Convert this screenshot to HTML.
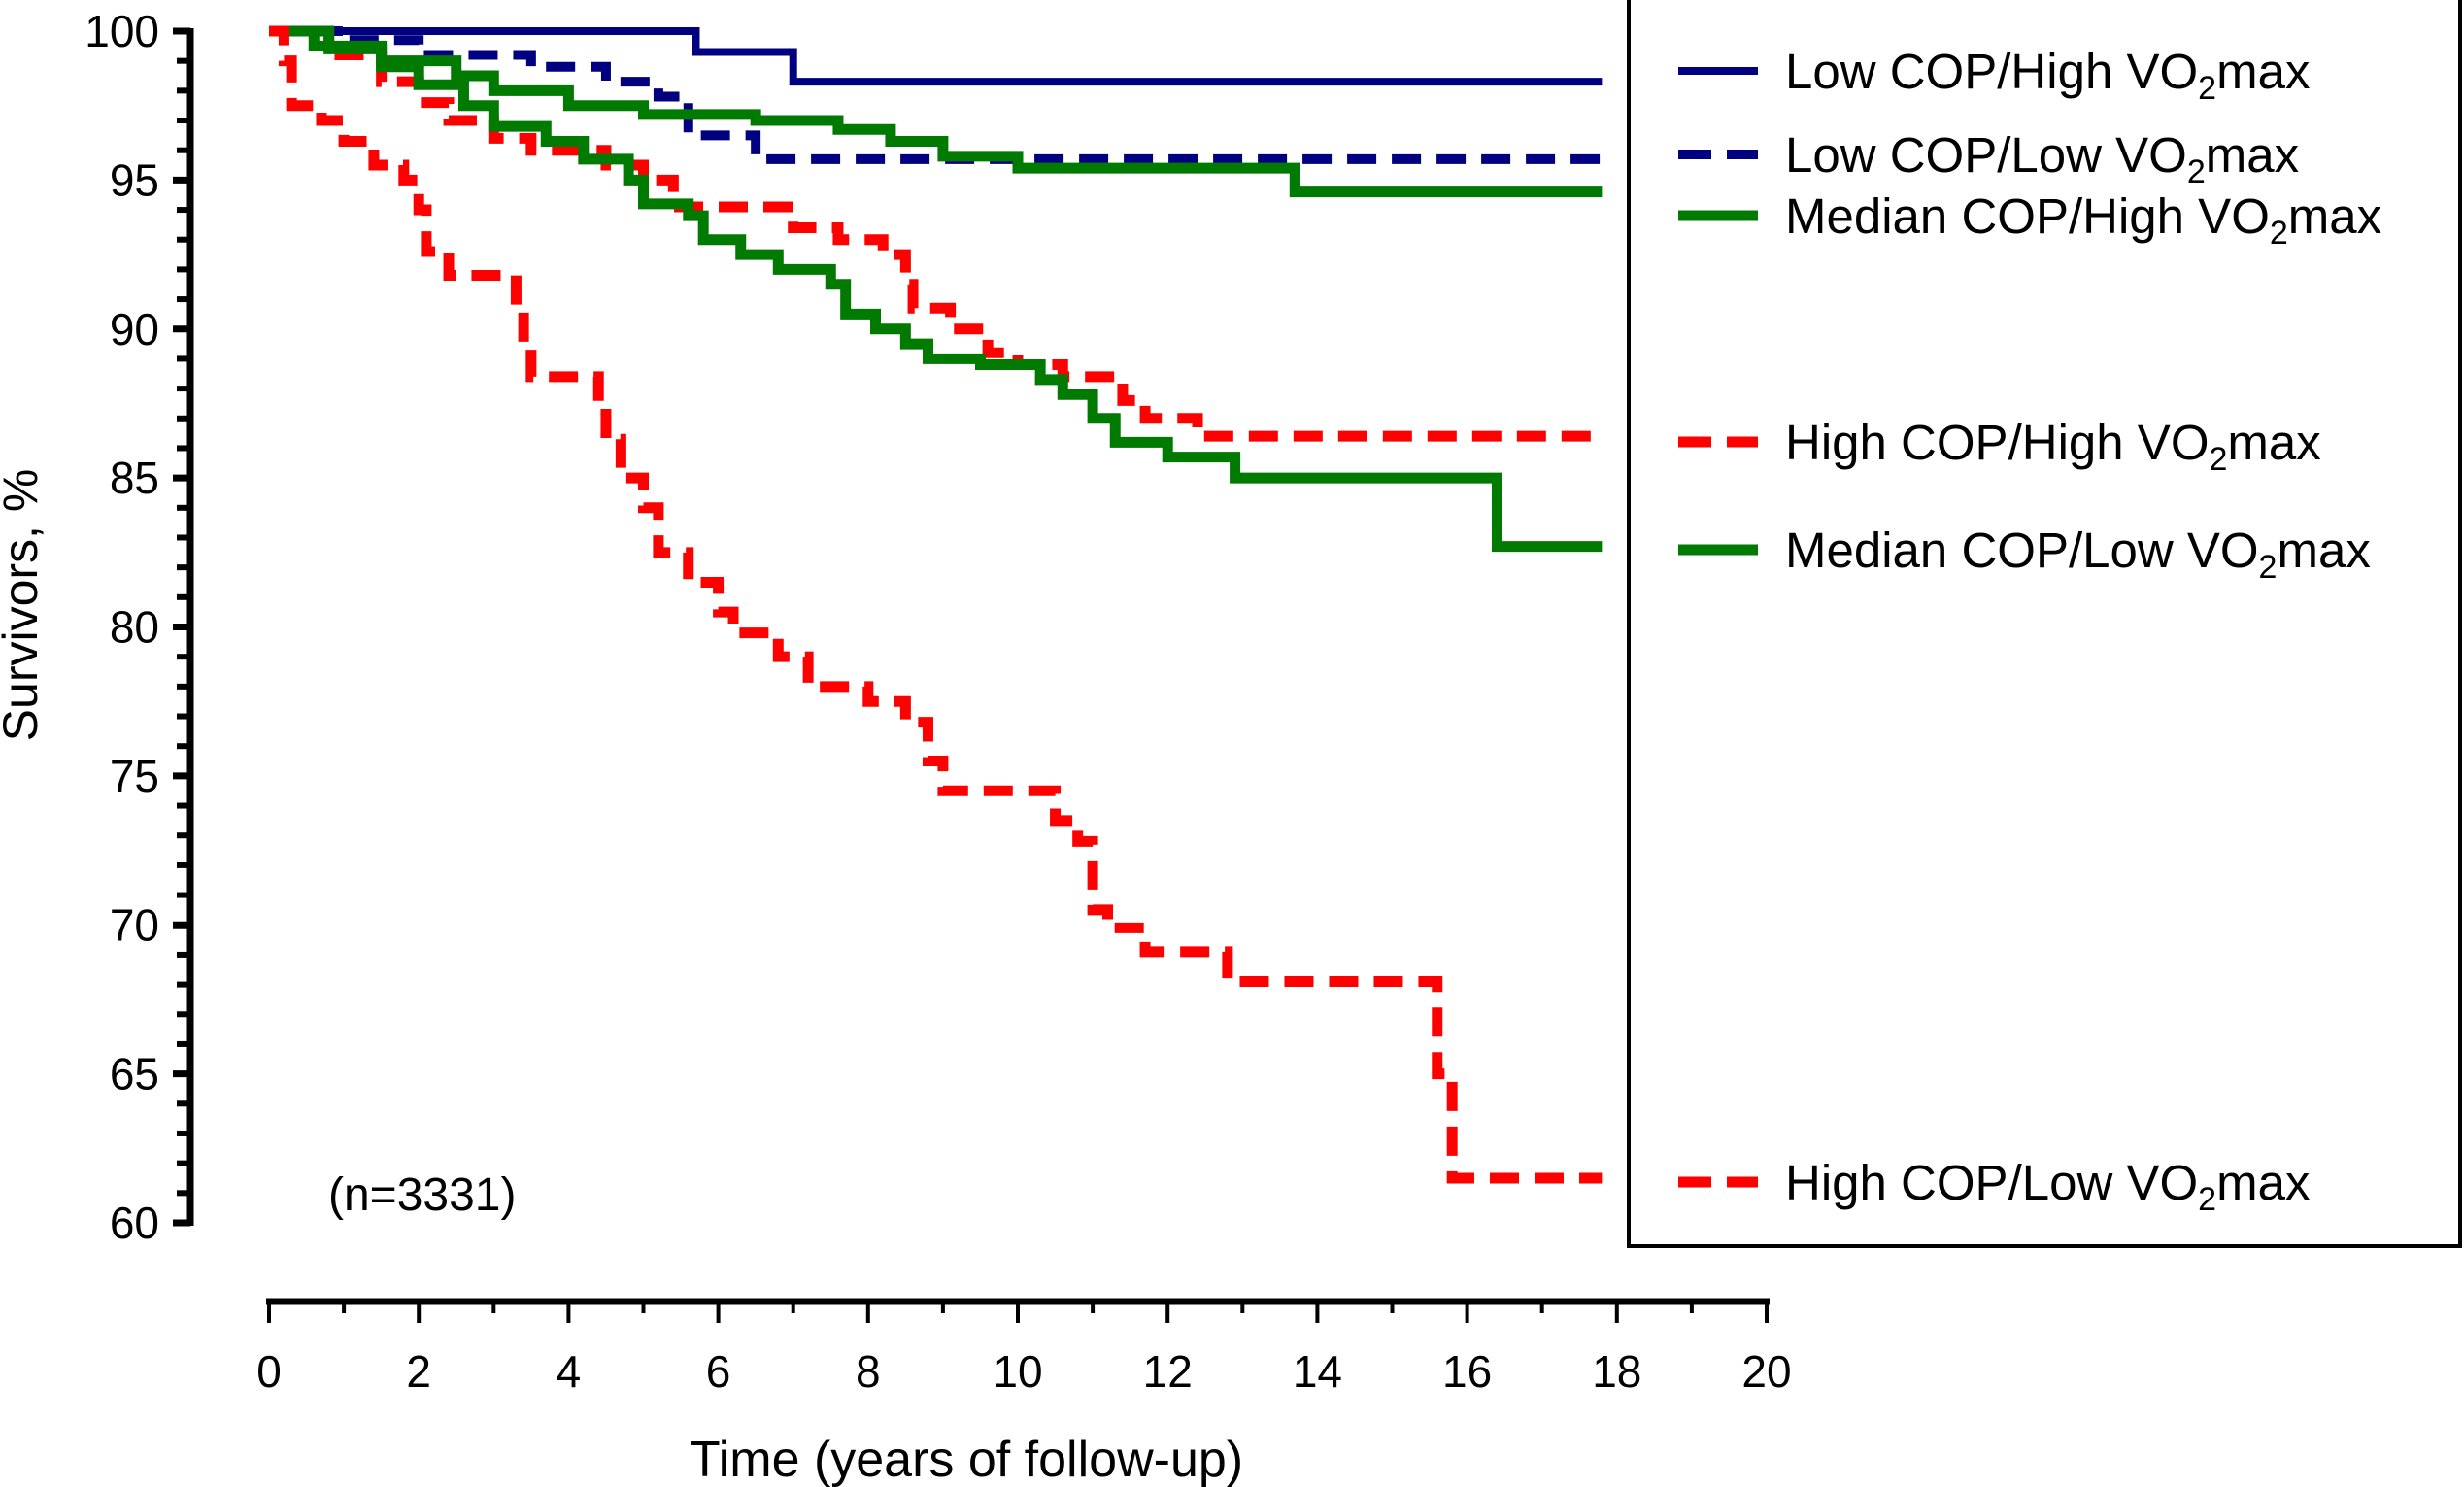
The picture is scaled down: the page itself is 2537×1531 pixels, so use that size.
<!DOCTYPE html>
<html><head><meta charset="utf-8"><style>
html,body{margin:0;padding:0;background:#fff}
svg{display:block}
text{font-family:"Liberation Sans",Arial,sans-serif;fill:#000}
</style></head><body>
<svg id="chart" width="2537" height="1531" viewBox="0 0 2537 1531" xmlns="http://www.w3.org/2000/svg">
<g id="axes"></g>
<g id="series"></g>
<rect x="1677" y="-4" width="856" height="1287" fill="none" stroke="#000" stroke-width="4"/>
<g id="legend"></g>
<text transform="translate(38,623) rotate(-90)" text-anchor="middle" font-size="50">Survivors, %</text>
<text x="995" y="1520" text-anchor="middle" font-size="52">Time (years of follow-up)</text>
<text x="338" y="1246" font-size="48">(n=3331)</text>
</svg>
<script>
const xTicks=[0,2,4,6,8,10,12,14,16,18,20];
const yTicks=[60,65,70,75,80,85,90,95,100];
const seriesNames=["Low COP/High VO2max","Low COP/Low VO2max","Median COP/High VO2max","High COP/High VO2max","Median COP/Low VO2max","High COP/Low VO2max"];
const tLowHigh=[0,5.7,7.0,17.8];
const sLowHigh=[100,99.3,98.3,98.3];
const tLowLow=[0,1.0,2.0,3.5,4.5,5.2,5.6,6.5,17.8];
const sLowLow=[100,99.7,99.2,98.8,98.3,97.8,96.5,95.7,95.7];
const tMedHigh=[0,0.6,1.5,2.5,3.0,4.0,5.0,6.5,7.6,8.3,9.0,10.0,13.7,17.8];
const sMedHigh=[100,99.5,99.0,98.5,98.0,97.5,97.2,97.0,96.7,96.3,95.8,95.4,94.6,94.6];
const tHighHigh=[0,0.8,1.5,2.0,2.4,3.0,3.5,4.5,5.0,5.4,7.0,7.6,8.2,8.5,8.6,9.1,9.6,10.0,10.6,11.4,11.7,12.4,17.8];
const sHighHigh=[100,99.2,98.3,97.6,97.0,96.4,96.0,95.5,95.0,94.1,93.4,93.0,92.5,91.5,90.7,90.0,89.2,88.8,88.4,87.6,87.0,86.4,86.4];
const tMedLow=[0,0.8,1.5,2.0,2.6,3.0,3.7,4.2,4.8,5.0,5.6,5.8,6.3,6.8,7.5,7.7,8.1,8.5,8.8,9.5,10.3,10.6,11.0,11.3,12.0,12.9,16.4,17.8];
const sMedLow=[100,99.4,98.8,98.2,97.5,96.8,96.3,95.7,95.0,94.2,93.8,93.0,92.5,92.0,91.5,90.5,90.0,89.5,89.0,88.8,88.3,87.8,87.0,86.2,85.7,85.0,82.7,82.7];
const tHighLow=[0,0.2,0.3,0.7,1.0,1.4,1.8,2.0,2.1,2.4,3.3,3.4,3.5,4.4,4.5,4.7,5.0,5.2,5.6,6.0,6.2,6.8,7.2,8.0,8.5,8.8,9.0,10.5,10.8,11.0,11.2,11.7,12.8,15.6,15.8,17.8];
const sHighLow=[100,99,97.5,97.0,96.3,95.5,95.0,94.0,92.6,91.8,90.6,89.5,88.4,87.5,86.3,85.0,84.0,82.5,81.5,80.5,79.8,79.0,78.0,77.5,76.8,75.5,74.5,73.5,72.8,70.5,69.9,69.1,68.1,65.0,61.5,61.5];

const NS="http://www.w3.org/2000/svg";
const X0=277,X1=1819,Y100=32,Y60=1259;
function xs(t){return X0+(X1-X0)*t/20;}
function ys(v){return Y60-(Y60-Y100)*(v-60)/40;}
function mk(tag,attrs,parent){const e=document.createElementNS(NS,tag);for(const k in attrs)e.setAttribute(k,attrs[k]);parent.appendChild(e);return e;}
const axes=document.getElementById('axes');
let ya=mk('line',{x1:196,y1:ys(100)-3,x2:196,y2:ys(60)+3,stroke:'#000','stroke-width':7},axes);


for(let v=60;v<=100;v++){
  const major=v%5===0;
  const tk=mk('line',{x1:major?178:182,y1:ys(v),x2:196,y2:ys(v),stroke:'#000','stroke-width':major?7:6},axes);
  
  
}
yTicks.forEach(v=>{
  const t=mk('text',{x:164,y:ys(v)+16,'text-anchor':'end','font-size':46},axes);
  t.textContent=v;
  
  
});
let xa=mk('line',{x1:X0-3,y1:1340,x2:X1+3,y2:1340,stroke:'#000','stroke-width':7},axes);


for(let t=0;t<=20;t++){
  const major=t%2===0;
  const tk=mk('line',{x1:xs(t),y1:1340,x2:xs(t),y2:major?1362:1352,stroke:'#000','stroke-width':4},axes);
  
  
}
xTicks.forEach(v=>{
  const t=mk('text',{x:xs(v),y:1428,'text-anchor':'middle','font-size':46},axes);
  t.textContent=v;
  
  
});
const styles=[
 {t:tLowHigh,s:sLowHigh,c:'#000080',w:8,d:'',n:'curve-low-cop-high-vo2'},
 {t:tLowLow,s:sLowLow,c:'#000080',w:10,d:'30 16',n:'curve-low-cop-low-vo2'},
 {t:tMedHigh,s:sMedHigh,c:'#007a00',w:11,d:'',n:'curve-median-cop-high-vo2'},
 {t:tHighHigh,s:sHighHigh,c:'#ff0000',w:11,d:'30 16',n:'curve-high-cop-high-vo2'},
 {t:tMedLow,s:sMedLow,c:'#007a00',w:11,d:'',n:'curve-median-cop-low-vo2'},
 {t:tHighLow,s:sHighLow,c:'#ff0000',w:11,d:'30 16',n:'curve-high-cop-low-vo2'}
];
const sg=document.getElementById('series');
styles.forEach(st=>{
  let d='M'+xs(st.t[0])+' '+ys(st.s[0]);
  for(let i=1;i<st.t.length;i++){d+=' H'+xs(st.t[i])+' V'+ys(st.s[i]);}
  const p=mk('path',{d:d,fill:'none',stroke:st.c,'stroke-width':st.w,'stroke-dasharray':st.d},sg);
  
  
});
const legY=[73,159,222,455,566,1217];
const lg=document.getElementById('legend');
seriesNames.forEach((name,i)=>{
  const st=styles[i];
  const g=mk('g',{},lg);
  
  
  mk('line',{x1:1728,y1:legY[i],x2:1810,y2:legY[i],stroke:st.c,'stroke-width':st.w,'stroke-dasharray':st.d?'34 16':''},g);
  const t=mk('text',{x:1838,y:legY[i]+18,'font-size':51},g);
  const base=name.replace('VO2max','');
  t.appendChild(document.createTextNode(base+'VO'));
  const sub=mk('tspan',{'font-size':34,dy:11},t);sub.textContent='2';
  const m=mk('tspan',{dy:-11},t);m.textContent='max';
});
</script>
</body></html>
